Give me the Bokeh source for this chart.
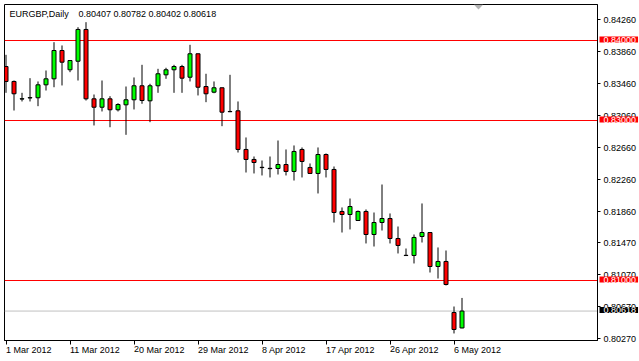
from bokeh.plotting import figure
from bokeh.models import (ColumnDataSource, Label, FixedTicker,
                          PrintfTickFormatter, Range1d, PolyAnnotation)
from bokeh.embed import file_html
from bokeh.resources import INLINE

symbol = "EURGBP"
timeframe = "Daily"

opens = [0.83675, 0.83488, 0.83268, 0.83282, 0.83284, 0.83446, 0.83521, 0.83875, 0.83634, 0.83741,
         0.84138, 0.83271, 0.83166, 0.83271, 0.83134, 0.83196, 0.83259, 0.83434, 0.83246, 0.83434,
         0.83571, 0.83634, 0.83675, 0.83541, 0.83834, 0.83425, 0.83354, 0.83409, 0.83113, 0.83121,
         0.82638, 0.82513, 0.82415, 0.82402, 0.82400, 0.82450, 0.82363, 0.82638, 0.82413, 0.82338,
         0.82575, 0.82388, 0.81863, 0.81825, 0.81750, 0.81863, 0.81575, 0.81725, 0.81775, 0.81525,
         0.81315, 0.81313, 0.81550, 0.81600, 0.81175, 0.81238, 0.80600, 0.80407]
highs = [0.83821, 0.83500, 0.83346, 0.83529, 0.83488, 0.83625, 0.83979, 0.83938, 0.83752, 0.84166,
         0.84229, 0.83325, 0.83500, 0.83304, 0.83216, 0.83425, 0.83538, 0.83696, 0.83459, 0.83646,
         0.83659, 0.83696, 0.83696, 0.83946, 0.83836, 0.83584, 0.83488, 0.83411, 0.83571, 0.83238,
         0.82788, 0.82550, 0.82500, 0.82550, 0.82750, 0.82638, 0.82688, 0.82663, 0.82463, 0.82663,
         0.82588, 0.82425, 0.81913, 0.82025, 0.81875, 0.81888, 0.81850, 0.82200, 0.81838, 0.81675,
         0.81400, 0.81575, 0.81963, 0.81602, 0.81413, 0.81375, 0.80675, 0.80782]
lows = [0.83346, 0.83125, 0.83238, 0.83238, 0.83179, 0.83375, 0.83416, 0.83438, 0.83604, 0.83500,
        0.83250, 0.82938, 0.83113, 0.82916, 0.83113, 0.82821, 0.83138, 0.83209, 0.82979, 0.83346,
        0.83521, 0.83346, 0.83346, 0.83488, 0.83313, 0.83229, 0.83341, 0.82929, 0.83104, 0.82600,
        0.82350, 0.82338, 0.82313, 0.82288, 0.82325, 0.82313, 0.82250, 0.82288, 0.82336, 0.82088,
        0.82288, 0.81725, 0.81600, 0.81638, 0.81748, 0.81463, 0.81425, 0.81625, 0.81463, 0.81338,
        0.81310, 0.81213, 0.81475, 0.81100, 0.81025, 0.80938, 0.80338, 0.80402]
closes = [0.83488, 0.83334, 0.83272, 0.83286, 0.83446, 0.83521, 0.83875, 0.83729, 0.83750, 0.84138,
          0.83271, 0.83166, 0.83271, 0.83134, 0.83200, 0.83259, 0.83434, 0.83250, 0.83434, 0.83584,
          0.83634, 0.83675, 0.83529, 0.83834, 0.83416, 0.83334, 0.83409, 0.83104, 0.83110, 0.82638,
          0.82513, 0.82475, 0.82411, 0.82398, 0.82450, 0.82363, 0.82613, 0.82488, 0.82338, 0.82575,
          0.82388, 0.81850, 0.81825, 0.81925, 0.81863, 0.81575, 0.81725, 0.81775, 0.81525, 0.81438,
          0.81312, 0.81538, 0.81600, 0.81175, 0.81238, 0.80950, 0.80388, 0.80618]

date_tick_idx = [0, 8, 16, 24, 32, 40, 48, 56]
date_tick_labels = ["1 Mar 2012", "11 Mar 2012", "20 Mar 2012", "29 Mar 2012",
                    "8 Apr 2012", "17 Apr 2012", "26 Apr 2012", "6 May 2012"]
price_ticks = [0.84260, 0.83860, 0.83460, 0.83060, 0.82660, 0.82260,
               0.81860, 0.81470, 0.81070, 0.80670, 0.80270]
levels = [0.84000, 0.83000, 0.81000]

UP = "#00ff00"
DOWN = "#ff0000"
FONT = "Liberation Sans"
FS = "9px"

# geometry (pixels)
W, H = 639, 361
FL, FT, FW, FH = 4, 4, 593, 336          # frame left/top/width/height
BAR_PX = 8.0                              # pixels per bar
PRICE_PX = 8000.0                         # pixels per price unit
X0 = 5.5                                  # canvas x of bar 0
REF_PRICE, REF_Y = 0.84, 40.0             # canvas y of a reference price

def x_at(px):
    return (px - X0) / BAR_PX

def price_at(py):
    return REF_PRICE - (py - REF_Y) / PRICE_PX

xr = Range1d(x_at(FL), x_at(FL + FW))
yr = Range1d(price_at(FT + FH), price_at(FT))

p = figure(frame_width=FW, frame_height=FH,
           min_border_left=FL, min_border_top=FT,
           min_border_right=W - FL - FW, min_border_bottom=H - FT - FH,
           x_range=xr, y_range=yr,
           y_axis_location="right", output_backend="svg", toolbar_location=None,
           background_fill_color="white", border_fill_color="white")
p.grid.visible = False
p.outline_line_color = "black"
p.outline_line_width = 1

yax = p.yaxis[0]
yax.ticker = FixedTicker(ticks=price_ticks, minor_ticks=[])
yax.formatter = PrintfTickFormatter(format="%.5f")
yax.major_tick_out = 3
yax.major_tick_in = 0
yax.minor_tick_out = 0
yax.minor_tick_in = 0
yax.major_label_standoff = 3
yax.axis_line_color = "black"
yax.major_tick_line_color = "black"
yax.major_label_text_font = FONT
yax.major_label_text_font_size = FS
yax.major_label_text_color = "black"

xax = p.xaxis[0]
xax.ticker = FixedTicker(ticks=date_tick_idx, minor_ticks=[])
xax.major_label_overrides = {i: t for i, t in zip(date_tick_idx, date_tick_labels)}
xax.major_label_orientation = -0.0001     # numeric orientation -> labels start at the tick
xax.major_label_standoff = 5
xax.major_tick_out = 4
xax.major_tick_in = 0
xax.minor_tick_out = 0
xax.minor_tick_in = 0
xax.axis_line_color = "black"
xax.major_tick_line_color = "black"
xax.major_label_text_font = FONT
xax.major_label_text_font_size = FS
xax.major_label_text_color = "black"

idx = list(range(len(opens)))
src = ColumnDataSource(dict(
    x=idx, o=opens, h=highs, l=lows, c=closes,
    top=[max(o, c) for o, c in zip(opens, closes)],
    bot=[min(o, c) for o, c in zip(opens, closes)],
    color=[UP if c >= o else DOWN for o, c in zip(opens, closes)],
))

# horizontal level lines and the current price line
lsrc = ColumnDataSource(dict(y=levels, x0=[xr.start] * len(levels), x1=[xr.end] * len(levels)))
p.segment(x0="x0", y0="y", x1="x1", y1="y", source=lsrc, line_color="#ff0000", line_width=1)
p.segment(x0=[xr.start], y0=[closes[-1]], x1=[xr.end], y1=[closes[-1]],
          line_color="#c0c0c0", line_width=1)

p.segment(x0="x", y0="l", x1="x", y1="h", source=src, line_color="black", line_width=1)
p.vbar(x="x", width=0.5, top="top", bottom="bot", source=src,
       fill_color="color", line_color="black", line_width=1)

p.add_layout(Label(x=5, y=FH - 9, x_units="screen", y_units="screen", text=f"{symbol},{timeframe}",
                   text_color="black", text_font=FONT, text_font_size=FS, text_baseline="middle"))
p.add_layout(Label(x=74, y=FH - 9, x_units="screen", y_units="screen",
                   text=" ".join(f"{v:.5f}" for v in (opens[-1], highs[-1], lows[-1], closes[-1])),
                   text_color="black", text_font=FONT, text_font_size=FS, text_baseline="middle"))

# price-scale markers (placed in the right side panel, positioned through the scales)
for lv in levels:
    p.add_layout(Label(x=x_at(599), y=lv, text=f"{lv:.5f}",
                       text_color="white", text_font=FONT, text_font_size=FS,
                       text_baseline="middle", text_align="left", y_offset=1,
                       background_fill_color="#ff0000",
                       padding=dict(left=4, right=2, top=0, bottom=0)), "right")
p.add_layout(Label(x=x_at(599), y=closes[-1],
                   text=f"{closes[-1]:.5f}", text_color="white", text_font=FONT,
                   text_font_size=FS, text_baseline="middle", text_align="left", y_offset=1,
                   background_fill_color="black",
                   padding=dict(left=4, right=2, top=0, bottom=0)), "right")

# chart-shift marker
p.add_layout(PolyAnnotation(xs=[469.3, 478.7, 474], ys=[FH, FH, FH - 5],
                            xs_units="screen", ys_units="screen",
                            fill_color="#b4b4b4", fill_alpha=1, line_alpha=0))

# window frame (gray top and left edges)
p.add_layout(PolyAnnotation(xs=[x_at(0), x_at(W), x_at(W), x_at(0)],
                            ys=[price_at(0), price_at(0), price_at(2), price_at(2)],
                            fill_color="#a0a0a0", fill_alpha=1, line_alpha=0), "above")
p.add_layout(PolyAnnotation(xs=[x_at(0), x_at(2), x_at(2), x_at(0)],
                            ys=[price_at(0), price_at(0), price_at(H), price_at(H)],
                            fill_color="#a0a0a0", fill_alpha=1, line_alpha=0), "left")

open("out.html", "w").write(file_html(p, INLINE))
